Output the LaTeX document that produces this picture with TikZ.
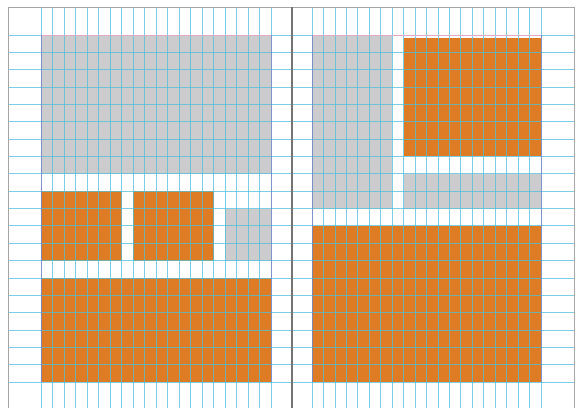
\documentclass[tikz,border=0pt]{standalone}
\usepackage{tikz}
\usetikzlibrary{positioning}
\usepackage{xcolor}
\definecolor{blockorange}{RGB}{222,123,37}
\definecolor{blockgray}{RGB}{204,204,206}
\definecolor{guidecyan}{RGB}{80,190,218}
\definecolor{marginpink}{RGB}{226,170,200}
\definecolor{columnviolet}{RGB}{130,110,190}

\begin{document}
\begin{tikzpicture}[
    x=1pt, y=-1pt,
    orangeblock/.style={fill=blockorange},
    grayblock/.style={fill=blockgray},
    gridline/.style={draw=guidecyan, line width=0.8pt, opacity=0.75},
    pageedge/.style={draw=black!35, line width=0.9pt},
    spineline/.style={draw=black!55, line width=1.2pt},
]
    \useasboundingbox (0,0) rectangle (576,408);
    \fill[white] (0,0) rectangle (576,408);
    % left page blocks
    \fill[grayblock]   (41,35)    rectangle (271,173.8);
    \fill[orangeblock] (41,191.2) rectangle (121.5,260.6);
    \fill[orangeblock] (133,191.2) rectangle (213.5,260.6);
    \fill[grayblock]   (225,208.5) rectangle (271,260.6);
    \fill[orangeblock] (41,278)   rectangle (271,382);
    % right page blocks
    \fill[grayblock]   (312,35)    rectangle (392.2,208.5);
    \fill[orangeblock] (403.6,38)  rectangle (541,156.4);
    \fill[grayblock]   (403.6,173.8) rectangle (541,208.5);
    \fill[orangeblock] (312,225.9) rectangle (541,382);
    % baseline grid
    \foreach \j in {0,...,20}
        \draw[gridline] (8,35+\j*17.35) -- (574,35+\j*17.35);
    % column grid
    \foreach \i in {0,...,20} {
        \draw[gridline] (41+\i*11.5,7) -- (41+\i*11.5,408);
        \draw[gridline] (312+\i*11.45,7) -- (312+\i*11.45,408);
    }
    % margin guides
    \draw[marginpink, line width=0.8pt] (41,35) -- (271,35) (312,35) -- (541,35);
    \draw[columnviolet, line width=0.7pt, opacity=0.6]
        (41,35) -- (41,382) (271,35) -- (271,382)
        (312,35) -- (312,382) (541,35) -- (541,382);
    % page frame and spine
    \draw[pageedge] (8,408) -- (8,7) -- (574,7) -- (574,408);
    \draw[spineline] (292,7) -- (292,408);
\end{tikzpicture}
\end{document}
